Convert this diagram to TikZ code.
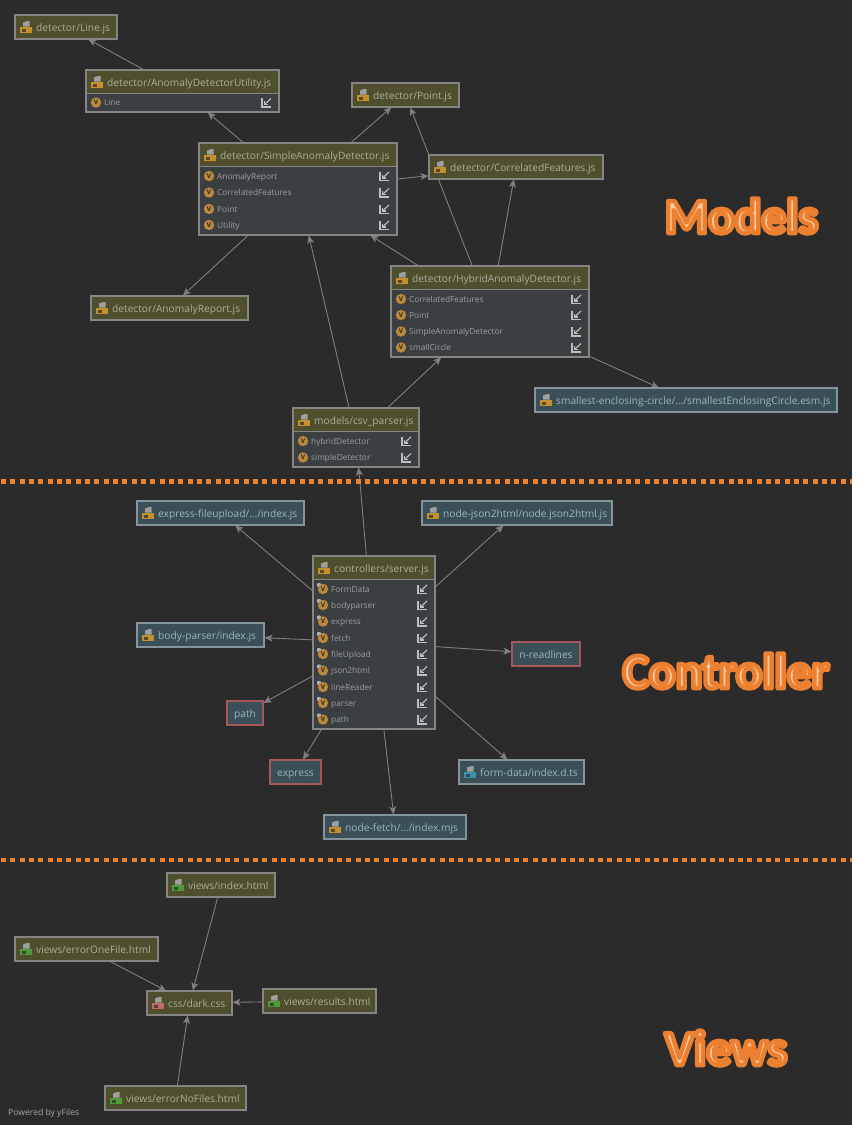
\documentclass[tikz,border=0pt]{standalone}
\usepackage{fontspec}
\setmainfont{Open Sans}
\newfontfamily\titlefont{Carlito}
\usetikzlibrary{arrows.meta}
\pgfdeclarelayer{back}\pgfdeclarelayer{edges}
\pgfsetlayers{back,edges,main}
\definecolor{bg}{HTML}{2B2B2B}
\definecolor{olive}{HTML}{4F4F2D}
\definecolor{teal}{HTML}{3B4F58}
\definecolor{rowbg}{HTML}{3C3F41}
\definecolor{bord}{HTML}{858585}
\definecolor{bordt}{HTML}{84949A}
\definecolor{edge}{HTML}{7F7F7F}
\definecolor{hdrtxt}{HTML}{A8B09C}
\definecolor{exttxt}{HTML}{9CB6BE}
\definecolor{rowtxt}{HTML}{9E9E9E}
\definecolor{redb}{HTML}{A85659}
\definecolor{jsc}{HTML}{C48F2E}
\definecolor{htmlc}{HTML}{4F9A3A}
\definecolor{cssc}{HTML}{C06A6A}
\definecolor{tsc}{HTML}{3D8FB0}
\definecolor{vc}{HTML}{B9883A}
\definecolor{iconc}{HTML}{BEBEBE}
\definecolor{dashc}{HTML}{F0822D}
\newcounter{vcount}
\tikzset{
  x=1pt,y=-1pt,
  boxn/.style={draw=bord,line width=1.5pt,inner sep=0pt,outer sep=0pt,fill=olive},
  labelt/.style={anchor=west,inner sep=0pt,text height=8pt,text depth=2.4pt,text=hdrtxt,font=\fontsize{10.2}{12}\selectfont},
  rowt/.style={anchor=west,inner sep=0pt,text height=6.6pt,text depth=2pt,text=rowtxt,font=\fontsize{8.3}{10}\selectfont},
  conn/.style={draw=edge,line width=.9pt,-{Stealth[length=8pt,width=7pt,inset=2pt]},shorten >=.5pt},
  sep/.style={draw=dashc,line width=4.7pt,dash pattern=on 5pt off 4.33pt},
  bigt/.style={inner sep=0pt,font=\titlefont\bfseries\fontsize{49.5}{52}\selectfont}
}
% name, x0,y0,x1,y1, fill, border, label, iconcolour (empty: no icon)
\newcommand\fbx[9]{%
  \pgfmathsetmacro\cx{(#2+#4)/2}\pgfmathsetmacro\cy{(#3+#5)/2}%
  \pgfmathsetmacro\ww{#4-#2}\pgfmathsetmacro\hh{#5-#3}%
  \node[boxn,fill=#6,draw=#7,minimum width=\ww pt,minimum height=\hh pt] (#1) at (\cx,\cy) {};%
  \pgfmathsetmacro\ly{#3+14}%
  \ifx\relax#9\relax
    \node[labelt,text=exttxt,anchor=center] (#1-label) at (\cx,\ly) {#8};%
  \else
    \pgfmathsetmacro\ix{#2+5}\pgfmathsetmacro\iy{#3+6}\pgfmathsetmacro\lx{#2+21}%
    \fileicon{\ix}{\iy}{#9}%
    \node[labelt,text=#6 lbl] (#1-label) at (\lx,\ly) {#8};%
  \fi}
\colorlet{olive lbl}{hdrtxt}
\colorlet{teal lbl}{exttxt}
\newcommand\fileicon[3]{%
  \fill[gray!75!white] (#1+3,#2+1.5) -- (#1+7,#2) -- (#1+9.5,#2) -- (#1+9.5,#2+5.5) -- (#1+3,#2+5.5) -- cycle;
  \fill[#3] (#1,#2+6) rectangle (#1+12,#2+12);
  \fill[bg!70!#3] (#1+2,#2+8) rectangle (#1+6,#2+10.5);}
% x0,y,x1,text, tagged?
\newcommand\rowi[5]{%
  \stepcounter{vcount}%
  \pgfmathsetmacro\vx{#1+10}\pgfmathsetmacro\tx{#1+18}\pgfmathsetmacro\kx{#3-12.5}\pgfmathsetmacro\ty{#2+.7}%
  \ifx\relax#5\relax\else\fill[iconc!80!gray] (\vx-4,#2-4) circle (2.2);\fi
  \node[circle,fill=vc,minimum size=10.4pt,inner sep=0pt,text=bg,font=\bfseries\fontsize{6.5}{7}\selectfont] (vv\thevcount) at (\vx,#2) {V};%
  \node[rowt] (vt\thevcount) at (\tx,\ty) {#4};%
  \draw[iconc,line width=1.1pt] (\kx-4.5,#2-4.5) -- (\kx-4.5,#2+4.5) -- (\kx+4.5,#2+4.5);%
  \draw[iconc,line width=1.1pt] (\kx-2,#2+2) -- (\kx+4.5,#2-4);%
  \draw[iconc,line width=1.1pt] (\kx-2,#2-1.5) -- (\kx-2,#2+2) -- (\kx+1.5,#2+2);}
\newcommand\bodybx[5]{\fill[rowbg] (#1,#2) rectangle (#3,#4);\draw[bord,line width=1pt] (#1,#2) -- (#3,#2);\draw[bord,line width=1.5pt] (#1,#2) -- (#1,#4) -- (#3,#4) -- (#3,#2);}
\newcommand\titlefx{\special{pdf:code 2 Tr 4.4 w 0.93 0.5 0.19 RG 0.98 0.8 0.64 rg 1 j}}
\begin{document}
\begin{tikzpicture}
\useasboundingbox (0,0) rectangle (867,1125);
\begin{pgfonlayer}{back}
\fill[white] (0,0) rectangle (867,1125);
\fill[bg] (0,0) rectangle (852,1125);
\end{pgfonlayer}

% Models
\fbx{line}{15}{15}{117}{39}{olive}{bord}{detector/Line.js}{jsc}
\fbx{util}{86}{70}{279}{112}{olive}{bord}{detector/AnomalyDetectorUtility.js}{jsc}
\bodybx{86}{93}{279}{112}{}
\rowi{86}{102.5}{279}{Line}{}
\fbx{point}{352}{83}{459}{107}{olive}{bord}{detector/Point.js}{jsc}
\fbx{simple}{199}{143}{397}{235}{olive}{bord}{detector/SimpleAnomalyDetector.js}{jsc}
\bodybx{199}{166}{397}{235}{}
\rowi{199}{176}{397}{AnomalyReport}{}
\rowi{199}{192.5}{397}{CorrelatedFeatures}{}
\rowi{199}{209}{397}{Point}{}
\rowi{199}{225}{397}{Utility}{}
\fbx{corr}{429}{155}{603}{179}{olive}{bord}{detector/CorrelatedFeatures.js}{jsc}
\fbx{report}{91}{296}{248}{320}{olive}{bord}{detector/AnomalyReport.js}{jsc}
\fbx{hybrid}{391}{266}{589}{357}{olive}{bord}{detector/HybridAnomalyDetector.js}{jsc}
\bodybx{391}{289}{589}{357}{}
\rowi{391}{299}{589}{CorrelatedFeatures}{}
\rowi{391}{315}{589}{Point}{}
\rowi{391}{331.5}{589}{SimpleAnomalyDetector}{}
\rowi{391}{347.5}{589}{smallCircle}{}
\fbx{smallest}{535}{388}{837}{412}{teal}{bordt}{smallest-enclosing-circle/.../smallestEnclosingCircle.esm.js}{jsc}
\fbx{csv}{293}{408}{419}{467}{olive}{bord}{models/csv\_parser.js}{jsc}
\bodybx{293}{431}{419}{467}{}
\rowi{293}{441}{419}{hybridDetector}{}
\rowi{293}{457.5}{419}{simpleDetector}{}

% Controller
\fbx{upload}{137}{501}{304}{525}{teal}{bordt}{express-fileupload/.../index.js}{jsc}
\fbx{jsonh}{422}{501}{612}{525}{teal}{bordt}{node-json2html/node.json2html.js}{jsc}
\fbx{server}{313}{556}{435}{729}{olive}{bord}{controllers/server.js}{jsc}
\bodybx{313}{579}{435}{729}{}
\rowi{313}{589}{435}{FormData}{x}
\rowi{313}{605}{435}{bodyparser}{x}
\rowi{313}{621.5}{435}{express}{x}
\rowi{313}{638}{435}{fetch}{x}
\rowi{313}{654}{435}{fileUpload}{x}
\rowi{313}{670.5}{435}{json2html}{x}
\rowi{313}{687}{435}{lineReader}{x}
\rowi{313}{703}{435}{parser}{x}
\rowi{313}{719.5}{435}{path}{x}
\fbx{body}{137}{623}{264}{647}{teal}{bordt}{body-parser/index.js}{jsc}
\fbx{nread}{512}{642}{580}{666}{teal}{redb}{n-readlines}{}
\fbx{pathn}{227}{701}{263}{725}{teal}{redb}{path}{}
\fbx{expr}{270}{760}{321}{784}{teal}{redb}{express}{}
\fbx{form}{459}{760}{584}{784}{teal}{bordt}{form-data/index.d.ts}{tsc}
\fbx{nfetch}{324}{815}{466}{839}{teal}{bordt}{node-fetch/.../index.mjs}{jsc}

% Views
\fbx{index}{167}{873}{275}{897}{olive}{bord}{views/index.html}{htmlc}
\fbx{errone}{15}{937}{158}{961}{olive}{bord}{views/errorOneFile.html}{htmlc}
\fbx{dark}{147}{991}{232}{1015}{olive}{bord}{css/dark.css}{cssc}
\fbx{results}{263}{989}{376}{1013}{olive}{bord}{views/results.html}{htmlc}
\fbx{errno}{105}{1086}{246}{1110}{olive}{bord}{views/errorNoFiles.html}{htmlc}

\begin{pgfonlayer}{edges}
\foreach \a/\b in {util/line,simple/util,simple/point,simple/corr,simple/report,hybrid/simple,hybrid/point,hybrid/corr,hybrid/smallest,csv/simple,csv/hybrid,server/csv,server/upload,server/jsonh,server/body,server/nread,server/pathn,server/expr,server/form,server/nfetch,index/dark,errone/dark,results/dark,errno/dark}
  \draw[conn] (\a) -- (\b);
\end{pgfonlayer}

\coordinate (s1a) at (1,481.3);\coordinate (s1b) at (852,481.3);
\coordinate (s2a) at (1,860);\coordinate (s2b) at (852,860);
\draw[sep] (s1a) -- (s1b);
\draw[sep] (s2a) -- (s2b);

\node[anchor=west,inner sep=0pt,text=gray!70,font=\fontsize{8.6}{9}\selectfont] (yf) at (8,1113) {Powered by yFiles};

\node[bigt] (t1) at (741.5,216) {\titlefx Models\special{pdf:code 0 Tr}};
\node[bigt] (t2) at (726,671) {\titlefx Controller\special{pdf:code 0 Tr}};
\node[bigt] (t3) at (726,1048) {\titlefx Views\special{pdf:code 0 Tr}};
\end{tikzpicture}
\end{document}
